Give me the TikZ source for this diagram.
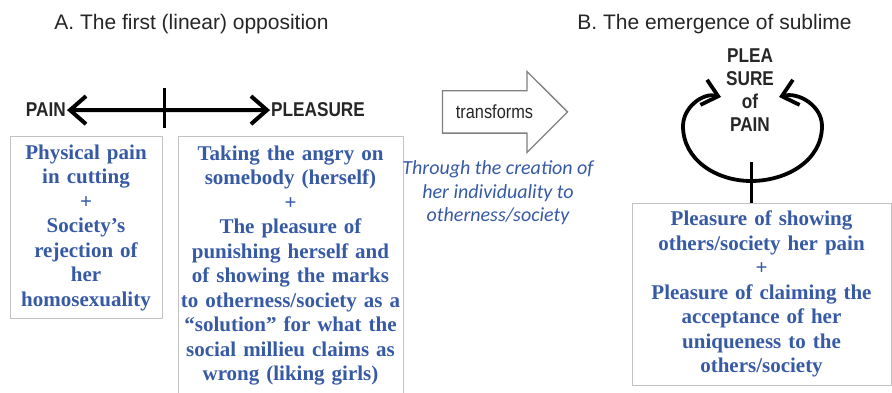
\documentclass[tikz,border=0pt]{standalone}
\usepackage{fontspec}
\setmainfont{Liberation Serif}
\setsansfont{Liberation Sans}
\newfontfamily\nar{Liberation Sans}[FakeStretch=0.86]
\newfontfamily\calf{Carlito}
\usetikzlibrary{arrows.meta, shapes.arrows, positioning, calc}
\definecolor{txtblue}{RGB}{55,90,165}
\definecolor{boxgray}{RGB}{195,195,195}

\begin{document}
\begin{tikzpicture}[x=1pt,y=1pt,
  bx/.style={draw=boxgray, line width=1pt, align=center, text=txtblue,
    font=\bfseries\fontsize{21}{24.5}\selectfont, inner xsep=2pt, inner ysep=0pt},
  ttl/.style={font=\sffamily\fontsize{21}{25}\selectfont, text=black!85},
  lbl/.style={font=\nar\bfseries\fontsize{20}{23}\selectfont, text=black!85, inner ysep=0pt, inner xsep=1pt},
  thk/.style={line width=4pt, {Straight Barb[length=16pt,width=28pt]}-{Straight Barb[length=16pt,width=28pt]}},
  cv/.style={line width=3.8pt, -{Straight Barb[length=15pt,width=26pt]}}]
\useasboundingbox (0,0) rectangle (892,-393);
\node[ttl, anchor=base] (ta) at (191.5,-30) {A. The first (linear) opposition};
\node[ttl, anchor=base] (tb) at (714.5,-30) {B. The emergence of sublime};
\node[lbl, anchor=base east] (pain) at (67,-117) {PAIN};
\node[lbl, anchor=base west] (plea) at (270,-117) {PLEASURE};
\draw[thk] (pain.east) -- (plea.west);
\coordinate (tk) at (164,-108);
\draw[line width=3pt] (tk) ++(0,20) -- ++(0,-40);
\node[bx, text width=148pt, minimum height=181pt] (b1) at (86,-227.5)
  {Physical pain\\in cutting\\+\\Society’s\\rejection of\\her\\homosexuality};
\node[bx, text width=221pt, minimum height=257pt] (b2) at (290.5,-265.5)
  {Taking the angry on\\somebody (herself)\\+\\The pleasure of\\punishing herself and\\of showing the marks\\to otherness/society as a\\“solution” for what the\\social millieu claims as\\wrong (liking girls)};
\node[single arrow, draw=black!50, line width=1.3pt, minimum height=125pt,
  single arrow head extend=19.5pt, text height=13pt, text depth=0pt, inner ysep=14pt,
  font=\nar\fontsize{19}{22}\selectfont, text=black!85] (tf) at (494.5,-112) {transforms};
\node[font=\calf\itshape\fontsize{20}{23.5}\selectfont, text=txtblue, align=center] (thr) at (498,-193)
  {Through the creation of\\her individuality to\\otherness/society};
\node[lbl, align=center] (pp) at (750,-90) {PLEA\\SURE\\of\\PAIN};
\coordinate (bt) at (751,-181);
\coordinate (lt) at (721,-97);
\coordinate (rt) at (779,-97);
\draw[cv] (bt) to[out=180,in=-90] (683,-126) to[out=90,in=165] (lt);
\draw[cv] (bt) to[out=0,in=-90] (822,-126) to[out=90,in=15] (rt);
\node[bx, text width=255pt, minimum height=182pt] (b3) at (761.5,-294)
  {Pleasure of showing\\others/society her pain\\+\\Pleasure of claiming the\\acceptance of her\\uniqueness to the\\others/society};
\draw[line width=3pt] (bt) ++(0,19) -- (b3.north -| bt);
\end{tikzpicture}
\end{document}
